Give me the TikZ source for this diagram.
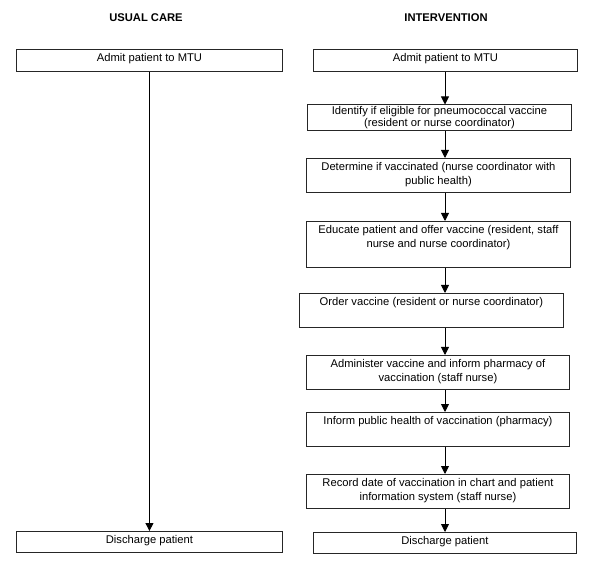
\documentclass[tikz,border=0pt]{standalone}
\usepackage{fontspec}
\setmainfont{Liberation Sans}
\usetikzlibrary{arrows.meta}

% text block of a step: [first baseline], width, height, text (top aligned)
\newcommand{\steptext}[4][12.4pt]{\parbox[c][#3][t]{#2}{\centering\rule{0pt}{#1}#4}}

\tikzset{
    stepbox/.style={draw=black!85, line width=0.9pt, anchor=north west, inner sep=0pt,
        font=\fontsize{11.2pt}{13.4pt}\selectfont},
    heading/.style={font=\fontsize{11.2pt}{13.4pt}\selectfont\bfseries},
    flow/.style={line width=0.9pt, -{Triangle[length=8pt, width=8pt]}}
}

\begin{document}
\begin{tikzpicture}[x=1pt, y=-1pt]

    \useasboundingbox (0, 0) rectangle (600, 577);

    %% Headings
    \node [heading] (usualhead) at (146, 18) {USUAL CARE};
    \node [heading] (intervhead) at (446, 18) {INTERVENTION};

    %% Usual care
    \node [stepbox] (admitL) at (16, 49) {\steptext{266pt}{22pt}{Admit patient to MTU}};
    \node [stepbox] (dischL) at (16, 531) {\steptext{266pt}{21pt}{Discharge patient}};

    \draw [flow] (admitL.south) -- (dischL.north);

    %% Intervention
    \node [stepbox] (admitR) at (313, 49) {\steptext{264pt}{22pt}{Admit patient to MTU}};
    \node [stepbox] (ident) at (307, 104.5) {\steptext[9.6pt]{264pt}{26pt}{Identify if eligible for pneumococcal vaccine\\[-1.2pt](resident or nurse coordinator)}};
    \node [stepbox] (determ) at (306, 158) {\steptext{264pt}{34pt}{Determine if vaccinated (nurse coordinator with\\public health)}};
    \node [stepbox] (educ) at (306, 221) {\steptext{264pt}{46pt}{Educate patient and offer vaccine (resident, staff\\nurse and nurse coordinator)}};
    \node [stepbox] (order) at (299, 293) {\steptext{264pt}{34pt}{Order vaccine (resident or nurse coordinator)}};
    \node [stepbox] (admin) at (306, 355) {\steptext{263pt}{34pt}{Administer vaccine and inform pharmacy of\\vaccination (staff nurse)}};
    \node [stepbox] (inform) at (306, 412) {\steptext{263pt}{34pt}{Inform public health of vaccination (pharmacy)}};
    \node [stepbox] (record) at (306, 474) {\steptext{263pt}{34pt}{Record date of vaccination in chart and patient\\information system (staff nurse)}};
    \node [stepbox] (dischR) at (313, 532) {\steptext{263pt}{21pt}{Discharge patient}};

    % arrows of the right column
    \coordinate (colR) at (445, 0);
    \foreach \from/\to in {admitR/ident, ident/determ, determ/educ, educ/order,
        order/admin, admin/inform, inform/record, record/dischR}
        \draw [flow] (\from.south -| colR) -- (\to.north -| colR);

\end{tikzpicture}
\end{document}
